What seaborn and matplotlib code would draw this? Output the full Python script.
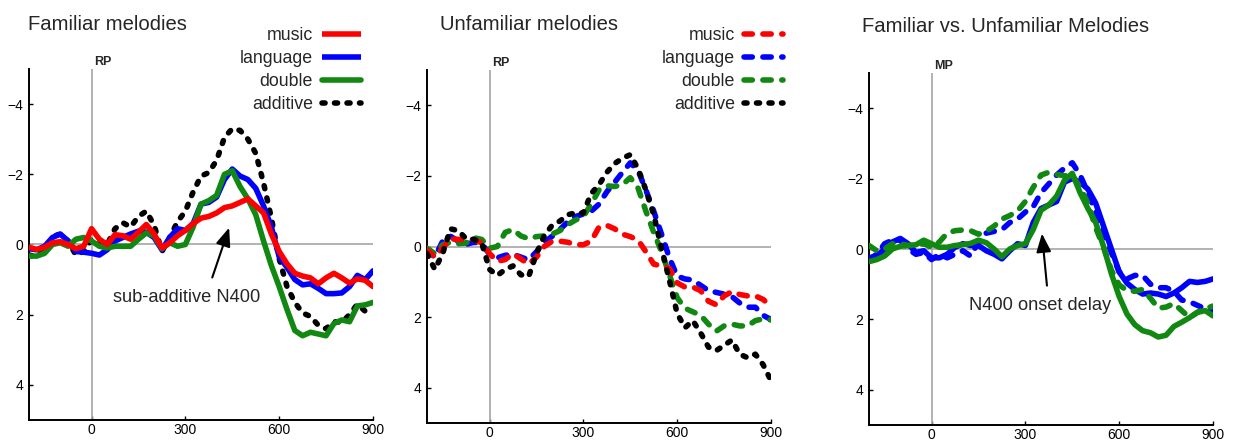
import numpy as np
import pandas as pd
import matplotlib
matplotlib.use("Agg")
import matplotlib.pyplot as plt
import seaborn as sns
from matplotlib import font_manager as fm
from matplotlib.lines import Line2D

# ---------------- data (µV, negative plotted upward) ----------------
time_ms = [-200, -175, -150, -125, -100, -75, -50, -25, 0, 25, 50, 75, 100, 125,
           150, 175, 200, 225, 250, 275, 300, 325, 350, 375, 400, 425, 450, 475,
           500, 525, 550, 575, 600, 625, 650, 675, 700, 725, 750, 775, 800, 825,
           850, 875, 900]

# Panel 1: familiar melodies
fam_music = [0.08, 0.14, 0.08, -0.05, -0.08, 0.0, 0.12, 0.05, -0.45, -0.15, 0.0, -0.28,
             -0.25, -0.15, -0.35, -0.57, -0.3, 0.1, -0.05, -0.25, -0.4, -0.6, -0.75, -0.8,
             -0.9, -1.05, -1.1, -1.2, -1.3, -1.1, -0.9, -0.3, 0.2, 0.55, 0.82, 0.9, 0.95,
             1.12, 0.95, 0.82, 0.95, 1.1, 0.98, 1.02, 1.2]
fam_language = [0.12, 0.15, 0.05, -0.2, -0.3, -0.1, 0.2, 0.22, 0.25, 0.3, 0.15, -0.1,
                -0.2, -0.3, -0.38, -0.35, -0.2, 0.15, -0.2, -0.45, -0.4, -0.6, -1.15, -1.2,
                -1.35, -1.85, -2.15, -1.95, -1.85, -1.6, -1.1, -0.5, 0.35, 0.65, 1.0, 1.15,
                1.12, 1.25, 1.4, 1.4, 1.38, 1.2, 0.88, 1.0, 0.75]
fam_double = [0.33, 0.33, 0.25, 0.0, -0.05, 0.05, -0.15, -0.2, -0.1, 0.05, 0.1, 0.05,
              0.05, 0.05, -0.15, -0.33, -0.25, 0.12, -0.05, 0.05, 0.0, -0.5, -1.15, -1.25,
              -1.4, -2.0, -2.1, -1.65, -1.3, -0.85, -0.1, 0.6, 1.2, 1.85, 2.45, 2.6, 2.5,
              2.55, 2.6, 2.25, 2.15, 2.2, 1.75, 1.72, 1.65]
fam_additive = [0.3, 0.35, 0.15, -0.22, -0.3, -0.1, 0.3, 0.2, -0.15, 0.0, 0.0, -0.45,
                -0.62, -0.5, -0.8, -0.95, -0.55, 0.2, -0.2, -0.65, -0.95, -1.5, -1.95, -2.05,
                -2.4, -3.05, -3.3, -3.25, -3.0, -2.6, -1.75, -0.75, 0.4, 1.2, 1.65, 1.95,
                2.05, 2.3, 2.4, 2.2, 2.22, 2.0, 1.7, 1.9, 2.0]

# Panel 2: unfamiliar melodies
unf_music = [0.1, 0.3, 0.05, -0.22, -0.2, -0.2, -0.2, -0.1, 0.2, 0.42, 0.37, 0.2,
             0.35, 0.5, 0.3, 0.0, -0.15, -0.15, -0.12, -0.05, -0.05, -0.15, -0.55, -0.6,
             -0.5, -0.35, -0.28, -0.18, 0.15, 0.5, 0.55, 0.62, 1.03, 1.15, 1.15, 1.25,
             1.55, 1.65, 1.4, 1.28, 1.36, 1.4, 1.4, 1.5, 1.7]
unf_language = [0.1, 0.3, -0.15, -0.29, -0.15, -0.06, -0.12, -0.08, 0.22, 0.32, 0.25, 0.22,
                0.3, 0.38, 0.15, -0.12, -0.29, -0.48, -0.7, -0.85, -0.92, -1.0, -1.2, -1.55,
                -1.82, -2.1, -2.37, -2.15, -1.6, -1.0, -0.35, 0.32, 0.84, 0.92, 0.95, 1.1,
                1.25, 1.3, 1.35, 1.42, 1.6, 1.72, 1.72, 1.95, 2.07]
unf_double = [0.05, 0.2, -0.05, -0.12, -0.08, -0.1, -0.25, -0.2, 0.05, 0.0, -0.4, -0.48,
              -0.3, -0.22, -0.28, -0.3, -0.35, -0.45, -0.62, -0.75, -0.85, -1.2, -1.6, -1.72,
              -1.7, -1.75, -1.95, -1.65, -1.0, -0.4, 0.15, 0.8, 1.45, 1.75, 1.85, 1.95,
              2.2, 2.4, 2.25, 2.2, 2.25, 2.25, 2.1, 2.05, 2.08]
unf_additive = [0.2, 0.65, 0.2, -0.5, -0.45, -0.22, -0.2, -0.1, 0.65, 0.82, 0.65, 0.55,
                0.8, 0.85, 0.2, -0.3, -0.6, -0.72, -0.9, -0.95, -0.95, -1.5, -1.75, -2.1,
                -2.35, -2.5, -2.6, -2.2, -1.6, -0.9, 0.05, 0.95, 1.9, 2.3, 2.1, 2.45,
                2.85, 2.95, 2.8, 2.65, 3.05, 3.15, 3.05, 3.35, 3.8]

# Panel 3: familiar (solid) vs. unfamiliar (dashed)
cmp_fam_language = [0.25, 0.2, 0.0, -0.2, -0.3, -0.15, 0.1, 0.05, 0.25, 0.25, 0.15, -0.05,
                    -0.15, -0.1, -0.1, 0.05, 0.15, 0.28, 0.05, -0.15, -0.1, -0.75, -1.15, -1.25,
                    -1.35, -1.9, -2.0, -1.9, -1.7, -1.3, -0.65, 0.0, 0.65, 0.97, 1.15, 1.28,
                    1.25, 1.28, 1.35, 1.25, 1.1, 0.92, 0.95, 0.92, 0.85]
cmp_fam_double = [0.36, 0.3, 0.2, 0.0, -0.08, -0.1, -0.12, -0.25, -0.15, -0.05, -0.05, -0.1,
                  -0.12, -0.16, -0.25, -0.18, 0.0, 0.22, 0.0, -0.1, -0.15, -0.55, -1.1, -1.25,
                  -1.5, -1.95, -2.15, -1.6, -1.15, -0.75, -0.07, 0.7, 1.35, 1.85, 2.15, 2.32,
                  2.38, 2.5, 2.45, 2.2, 2.08, 1.95, 1.8, 1.75, 1.9]
cmp_unf_language = [0.3, 0.15, -0.15, -0.25, -0.25, 0.0, 0.15, 0.1, 0.3, 0.15, 0.25, 0.15,
                    0.05, 0.2, -0.2, -0.45, -0.5, -0.55, -0.75, -0.85, -1.05, -1.2, -1.6, -1.85,
                    -2.1, -2.3, -2.45, -2.1, -1.6, -1.05, -0.5, 0.1, 0.65, 0.85, 0.75, 0.75,
                    1.0, 1.1, 1.1, 1.2, 1.45, 1.5, 1.6, 1.7, 1.75]
cmp_unf_double = [-0.1, 0.05, 0.0, -0.15, -0.15, -0.1, -0.1, -0.15, -0.05, -0.2, -0.45, -0.52,
                  -0.54, -0.52, -0.42, -0.5, -0.65, -0.85, -0.95, -1.08, -1.35, -1.75, -2.1, -2.18,
                  -2.12, -2.08, -2.1, -1.75, -1.3, -0.6, -0.05, 0.6, 1.02, 1.18, 1.2, 1.15,
                  1.4, 1.68, 1.65, 1.55, 1.75, 1.95, 1.8, 1.7, 1.62]

legend_labels = ["music", "language", "double", "additive"]
panel_titles = ["Familiar melodies", "Unfamiliar melodies", "Familiar vs. Unfamiliar Melodies"]
electrode_labels = ["RP", "RP", "MP"]
x_ticks = [0, 300, 600, 900]
y_ticks = [-4, -2, 0, 2, 4]
annot_texts = ["sub-additive N400", "N400 onset delay"]

# ---------------- style ----------------
sns.set_theme(style="white")


def has_font(name):
    try:
        fm.findfont(fm.FontProperties(family=name), fallback_to_default=False)
        return True
    except Exception:
        return False


NARROW = "Liberation Sans Narrow" if has_font("Liberation Sans Narrow") else "Liberation Sans"
S = 1.0 if NARROW == "Liberation Sans Narrow" else 0.82
plt.rcParams["font.family"] = ["Liberation Sans", "DejaVu Sans"]
plt.rcParams["axes.unicode_minus"] = True

RED, BLUE, GREEN, BLACK = "#ff0000", "#0000ff", "#118811", "#000000"
LW = 4.0
DASH = (0, (1.5, 1.9))
DOT = (0, (0.55, 1.7))

W, H = 1237, 442
fig = plt.figure(figsize=(W / 100, H / 100), dpi=100)

axes_px = [(29, 69, 373, 420), (427, 70, 771, 423), (869, 73, 1213, 425)]
axes = []
for (l, t, r, b) in axes_px:
    ax = fig.add_axes([l / W, 1 - b / H, (r - l) / W, (b - t) / H])
    axes.append(ax)


def draw(ax, y, color, ls, z):
    df = pd.DataFrame({"t": time_ms, "v": y})
    sns.lineplot(data=df, x="t", y="v", ax=ax, color=color, lw=LW, linestyle=ls,
                 estimator=None, sort=False, zorder=z,
                 solid_capstyle="round", dash_capstyle="round", solid_joinstyle="round")


# Panel 1
ax = axes[0]
draw(ax, fam_additive, BLACK, DOT, 3)
draw(ax, fam_language, BLUE, "-", 4)
draw(ax, fam_double, GREEN, "-", 5)
draw(ax, fam_music, RED, "-", 6)

# Panel 2
ax = axes[1]
draw(ax, unf_language, BLUE, DASH, 3)
draw(ax, unf_double, GREEN, DASH, 4)
draw(ax, unf_music, RED, DASH, 5)
draw(ax, unf_additive, BLACK, DOT, 6)

# Panel 3
ax = axes[2]
draw(ax, cmp_unf_language, BLUE, DASH, 3)
draw(ax, cmp_fam_language, BLUE, "-", 4)
draw(ax, cmp_unf_double, GREEN, DASH, 5)
draw(ax, cmp_fam_double, GREEN, "-", 6)

for i, ax in enumerate(axes):
    ax.set_xlim(-200, 900)
    ax.set_ylim(5, -5)
    ax.axhline(0, color="#a6a6a6", lw=1.2, zorder=1)
    ax.axvline(0, color="#a6a6a6", lw=1.2, zorder=1)
    ax.set_xticks(x_ticks)
    ax.set_yticks(y_ticks)
    ax.set_xlabel("")
    ax.set_ylabel("")
    sns.despine(ax=ax)
    for sp in ("left", "bottom"):
        ax.spines[sp].set_color("black")
        ax.spines[sp].set_linewidth(1.4)
    ax.tick_params(direction="in", length=3, width=1, colors="black",
                   labelsize=10, left=True, bottom=True)
    ax.tick_params(axis="x", pad=2.5)
    ax.tick_params(axis="y", pad=4)
    ax.set_facecolor("none")
    ax.annotate(electrode_labels[i], xy=(0, 1), xycoords=("data", "axes fraction"),
                xytext=(1.5, 1.0), textcoords="offset points", ha="left", va="bottom",
                fontsize=9, fontweight="bold", family="Liberation Sans")

# titles
title_pos = [(28, 24), (440, 24), (862, 27)]
for (x, y), txt in zip(title_pos, panel_titles):
    fig.text(x / W, 1 - y / H, txt, ha="left", va="center", fontsize=17.8 * S,
             family=[NARROW, "DejaVu Sans"])

# legends
leg_handles_p1 = [Line2D([], [], color=RED, lw=LW, solid_capstyle="butt"),
                  Line2D([], [], color=BLUE, lw=LW, solid_capstyle="butt"),
                  Line2D([], [], color=GREEN, lw=LW, solid_capstyle="round"),
                  Line2D([], [], color=BLACK, lw=LW, ls=DOT, dash_capstyle="round")]
leg_handles_p2 = [Line2D([], [], color=RED, lw=LW, ls=DASH, dash_capstyle="round"),
                  Line2D([], [], color=BLUE, lw=LW, ls=DASH, dash_capstyle="round"),
                  Line2D([], [], color=GREEN, lw=LW, ls=DASH, dash_capstyle="round"),
                  Line2D([], [], color=BLACK, lw=LW, ls=DOT, dash_capstyle="round")]
for handles, right_px in ((leg_handles_p1, 361), (leg_handles_p2, 783)):
    fig.legend(handles, legend_labels, loc="upper right",
               bbox_to_anchor=(right_px / W, 1 - 27 / H), bbox_transform=fig.transFigure,
               markerfirst=False, frameon=False, borderpad=0, borderaxespad=0,
               handlelength=2.2, handletextpad=0.5, labelspacing=0.34,
               prop=fm.FontProperties(family=NARROW, size=15.6 * S))

# annotations
arrow = dict(arrowstyle="-|>,head_length=0.7,head_width=0.28", color="black", lw=1.5,
             mutation_scale=16, shrinkA=0, shrinkB=0)
axes[0].annotate("", xy=(440, -0.48), xytext=(386, 0.94), arrowprops=arrow, zorder=10)
axes[0].text(305, 1.5, annot_texts[0], ha="center", va="center", fontsize=16 * S,
             family=[NARROW, "DejaVu Sans"], zorder=10)
axes[2].annotate("", xy=(353, -0.44), xytext=(369, 1.04), arrowprops=arrow, zorder=10)
axes[2].text(348, 1.6, annot_texts[1], ha="center", va="center", fontsize=16 * S,
             family=[NARROW, "DejaVu Sans"], zorder=10)

fig.savefig("out.png", dpi=100, facecolor="white")
